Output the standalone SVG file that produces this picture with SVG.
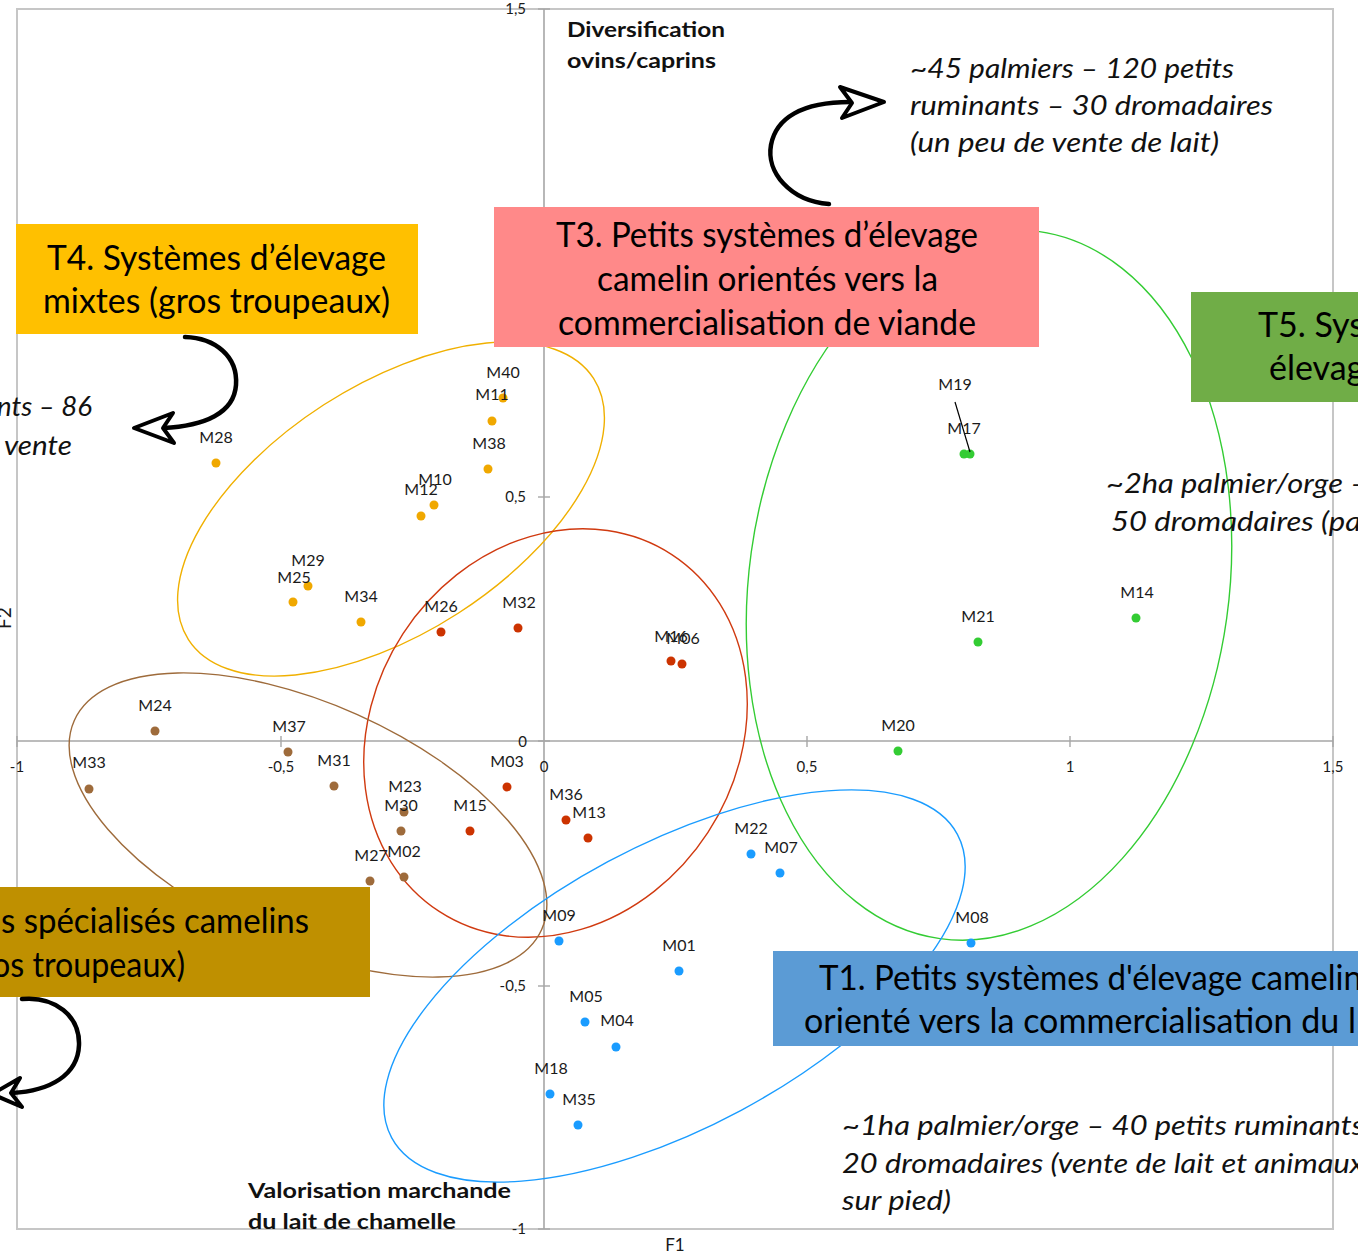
<svg xmlns="http://www.w3.org/2000/svg" width="1358" height="1253" viewBox="0 0 1358 1253">
<defs>
<style>
.lbl{font-family:Lato,"Liberation Sans",sans-serif;font-size:16px;fill:#1a1a1a;text-anchor:middle}
.tick{font-family:Lato,"Liberation Sans",sans-serif;font-size:15px;fill:#1a1a1a}
.title{font-family:Lato,"Liberation Sans",sans-serif;font-size:34px;fill:#000}
.note{font-family:Lato,"Liberation Sans",sans-serif;font-size:27px;font-style:italic;font-weight:400;fill:#111}
.axt{font-family:Lato,"Liberation Sans",sans-serif;font-size:21px;font-weight:bold;fill:#111}
.ell{fill:none;stroke-width:1.4}
.arr{fill:none;stroke:#000;stroke-width:4.5;stroke-linecap:round;stroke-linejoin:round}
.head{fill:#fff;stroke:#000;stroke-width:4;stroke-linejoin:round}
.o{fill:#f0a800}.r{fill:#cc3300}.b{fill:#9e6b3b}.g{fill:#33cc33}.u{fill:#1a9cff}
</style>
</defs>
<rect width="1358" height="1253" fill="#fff"/>
<g id="chart">
<rect x="17" y="9" width="1316" height="1220" fill="none" stroke="#c6c6c6" stroke-width="2"/>
<line x1="544" y1="9" x2="544" y2="1229" stroke="#a6a6a6" stroke-width="1.6"/>
<line x1="17" y1="741" x2="1333" y2="741" stroke="#a6a6a6" stroke-width="1.6"/>
<g stroke="#a6a6a6" stroke-width="1.4">
<line x1="538" y1="9" x2="550" y2="9"/><line x1="538" y1="253" x2="550" y2="253"/><line x1="538" y1="497" x2="550" y2="497"/>
<line x1="538" y1="741" x2="550" y2="741"/><line x1="538" y1="986" x2="550" y2="986"/><line x1="538" y1="1229" x2="550" y2="1229"/>
<line x1="17" y1="736" x2="17" y2="747"/><line x1="281" y1="736" x2="281" y2="747"/><line x1="807" y1="736" x2="807" y2="747"/>
<line x1="1070" y1="736" x2="1070" y2="747"/><line x1="1333" y1="736" x2="1333" y2="747"/>
</g>
<g class="tick" text-anchor="end">
<text x="526" y="14">1,5</text><text x="526" y="502">0,5</text><text x="527" y="747">0</text>
<text x="526" y="991">-0,5</text><text x="526" y="1234">-1</text>
</g>
<g class="tick" text-anchor="middle">
<text x="17" y="772">-1</text><text x="281" y="772">-0,5</text><text x="544" y="772">0</text>
<text x="807" y="772">0,5</text><text x="1070" y="772">1</text><text x="1333" y="772">1,5</text>
</g>
<text class="tick" x="675" y="1251" text-anchor="middle" style="font-size:17px">F1</text>
<text class="tick" transform="translate(11 618) rotate(-90)" text-anchor="middle" style="font-size:19px">F2</text>
<text class="axt" x="567" y="37" textLength="158" lengthAdjust="spacingAndGlyphs">Diversification</text>
<text class="axt" x="567" y="68" textLength="149" lengthAdjust="spacingAndGlyphs">ovins/caprins</text>
<text class="axt" x="248" y="1198" textLength="263" lengthAdjust="spacingAndGlyphs">Valorisation marchande</text>
<text class="axt" x="248" y="1229" textLength="208" lengthAdjust="spacingAndGlyphs">du lait de chamelle</text>
</g>
<g id="clusters">
<ellipse id="ell-T4" class="ell" stroke="#f0b000" cx="391" cy="509" rx="241" ry="124" transform="rotate(-32.8 391 509)"/>
<ellipse id="ell-T3" class="ell" stroke="#d03a10" cx="555.5" cy="733" rx="213" ry="182" transform="rotate(-56.9 555.5 733)"/>
<ellipse id="ell-T2" class="ell" stroke="#9e6b3b" cx="308" cy="825" rx="256" ry="121" transform="rotate(24.1 308 825)"/>
<ellipse id="ell-T5" class="ell" stroke="#33cc33" cx="989" cy="585" rx="240" ry="357" transform="rotate(7.9 989 585)"/>
<ellipse id="ell-T1" class="ell" stroke="#1a9cff" cx="674.5" cy="986" rx="321" ry="141" transform="rotate(-28.2 674.5 986)"/>
</g>
<g id="points">
<g class="o">
<circle cx="503" cy="398" r="4.5"/><circle cx="492" cy="421" r="4.5"/><circle cx="488" cy="469" r="4.5"/>
<circle cx="434" cy="505" r="4.5"/><circle cx="421" cy="516" r="4.5"/><circle cx="216" cy="463" r="4.5"/>
<circle cx="308" cy="586" r="4.5"/><circle cx="293" cy="602" r="4.5"/><circle cx="361" cy="622" r="4.5"/>
</g>
<g class="r">
<circle cx="441" cy="632" r="4.5"/><circle cx="518" cy="628" r="4.5"/><circle cx="671" cy="661" r="4.5"/>
<circle cx="682" cy="664" r="4.5"/><circle cx="507" cy="787" r="4.5"/><circle cx="470" cy="831" r="4.5"/>
<circle cx="566" cy="820" r="4.5"/><circle cx="588" cy="838" r="4.5"/>
</g>
<g class="b">
<circle cx="155" cy="731" r="4.5"/><circle cx="288" cy="752" r="4.5"/><circle cx="89" cy="789" r="4.5"/>
<circle cx="334" cy="786" r="4.5"/><circle cx="404" cy="812" r="4.5"/><circle cx="401" cy="831" r="4.5"/>
<circle cx="370" cy="881" r="4.5"/><circle cx="404" cy="877" r="4.5"/>
</g>
<g class="g">
<circle cx="964" cy="454" r="4.5"/><circle cx="970" cy="454" r="4.5"/><circle cx="978" cy="642" r="4.5"/>
<circle cx="1136" cy="618" r="4.5"/><circle cx="898" cy="751" r="4.5"/>
</g>
<g class="u">
<circle cx="751" cy="854" r="4.5"/><circle cx="780" cy="873" r="4.5"/><circle cx="971" cy="943" r="4.5"/>
<circle cx="559" cy="941" r="4.5"/><circle cx="679" cy="971" r="4.5"/><circle cx="585" cy="1022" r="4.5"/>
<circle cx="616" cy="1047" r="4.5"/><circle cx="550" cy="1094" r="4.5"/><circle cx="578" cy="1125" r="4.5"/>
</g>
<line x1="955" y1="402" x2="970" y2="452" stroke="#000" stroke-width="1.2"/>
<g class="lbl">
<text x="503" y="378">M40</text><text x="492" y="400">M11</text><text x="489" y="449">M38</text>
<text x="435" y="485">M10</text><text x="421" y="495">M12</text><text x="216" y="443">M28</text>
<text x="308" y="566">M29</text><text x="294" y="583">M25</text><text x="361" y="602">M34</text>
<text x="441" y="612">M26</text><text x="519" y="608">M32</text><text x="671" y="642">M16</text><text x="683" y="644">M06</text>
<text x="507" y="767">M03</text><text x="470" y="811">M15</text><text x="566" y="800">M36</text><text x="589" y="818">M13</text>
<text x="155" y="711">M24</text><text x="289" y="732">M37</text><text x="89" y="768">M33</text><text x="334" y="766">M31</text>
<text x="405" y="792">M23</text><text x="401" y="811">M30</text><text x="371" y="861">M27</text><text x="404" y="857">M02</text>
<text x="955" y="390">M19</text><text x="964" y="434">M17</text><text x="978" y="622">M21</text>
<text x="1137" y="598">M14</text><text x="898" y="731">M20</text>
<text x="751" y="834">M22</text><text x="781" y="853">M07</text><text x="972" y="923">M08</text>
<text x="559" y="921">M09</text><text x="679" y="951">M01</text><text x="586" y="1002">M05</text>
<text x="617" y="1026">M04</text><text x="551" y="1074">M18</text><text x="579" y="1105">M35</text>
</g>
</g>
<g id="T4">
<rect x="16" y="224" width="402" height="110" fill="#ffc000"/>
<text class="title" x="47" y="270" textLength="339" lengthAdjust="spacingAndGlyphs">T4. Systèmes d’élevage</text>
<text class="title" x="43" y="313" textLength="347" lengthAdjust="spacingAndGlyphs">mixtes (gros troupeaux)</text>
</g>
<g id="T3">
<rect x="494" y="207" width="545" height="140" fill="#ff8989"/>
<text class="title" x="556" y="247" textLength="422" lengthAdjust="spacingAndGlyphs">T3. Petits systèmes d’élevage</text>
<text class="title" x="597" y="291" textLength="341" lengthAdjust="spacingAndGlyphs">camelin orientés vers la</text>
<text class="title" x="558" y="335" textLength="418" lengthAdjust="spacingAndGlyphs">commercialisation de viande</text>
</g>
<g id="T5">
<rect x="1191" y="292" width="180" height="110" fill="#70ad47"/>
<text class="title" x="1258" y="337">T5. Sys</text>
<text class="title" x="1269" y="380">élevag</text>
</g>
<g id="T1">
<rect x="773" y="951" width="600" height="95" fill="#5b9bd5"/>
<text class="title" x="819" y="990" textLength="543" lengthAdjust="spacingAndGlyphs">T1. Petits systèmes d'élevage camelin</text>
<text class="title" x="804" y="1033" textLength="552" lengthAdjust="spacingAndGlyphs">orienté vers la commercialisation du l</text>
</g>
<g id="T2">
<rect x="-10" y="887" width="380" height="110" fill="#bf9000"/>
<text class="title" x="1" y="933" textLength="308" lengthAdjust="spacingAndGlyphs">s spécialisés camelins</text>
<text class="title" x="-8" y="977" textLength="193" lengthAdjust="spacingAndGlyphs">os troupeaux)</text>
</g>
<g id="notes">
<text class="note" x="910" y="78" textLength="324" lengthAdjust="spacingAndGlyphs">~45 palmiers – 120 petits</text>
<text class="note" x="910" y="115" textLength="363" lengthAdjust="spacingAndGlyphs">ruminants – 30 dromadaires</text>
<text class="note" x="910" y="152" textLength="309" lengthAdjust="spacingAndGlyphs">(un peu de vente de lait)</text>
<text class="note" x="-3" y="416" textLength="95" lengthAdjust="spacingAndGlyphs">nts – 86</text>
<text class="note" x="4" y="455" textLength="68" lengthAdjust="spacingAndGlyphs">vente</text>
<text class="note" x="1106" y="493" textLength="262" lengthAdjust="spacingAndGlyphs">~2ha palmier/orge –</text>
<text class="note" x="1111" y="531" textLength="250" lengthAdjust="spacingAndGlyphs">50 dromadaires (pa</text>
<text class="note" x="842" y="1135" textLength="522" lengthAdjust="spacingAndGlyphs">~1ha palmier/orge – 40 petits ruminants</text>
<text class="note" x="842" y="1173" textLength="522" lengthAdjust="spacingAndGlyphs">20 dromadaires (vente de lait et animaux</text>
<text class="note" x="842" y="1210" textLength="109" lengthAdjust="spacingAndGlyphs">sur pied)</text>
</g>
<g id="connectors">
<path class="arr" d="M829 204 C790 201 766 172 771 145 C776 118 802 102 850 102"/>
<path class="head" d="M840 87 L884 102 L842 118 L852 103 Z"/>
<path class="arr" d="M185 337 C215 338 238 356 236 385 C234 413 205 426 163 428"/>
<path class="head" d="M173 413 L134 428 L174 443 L163 428 Z"/>
<path class="arr" d="M22 999 C55 996 80 1016 79 1045 C78 1075 50 1091 12 1093"/>
<path class="head" d="M20 1078 L-8 1094 L22 1107 L11 1093 Z"/>
</g>
</svg>
